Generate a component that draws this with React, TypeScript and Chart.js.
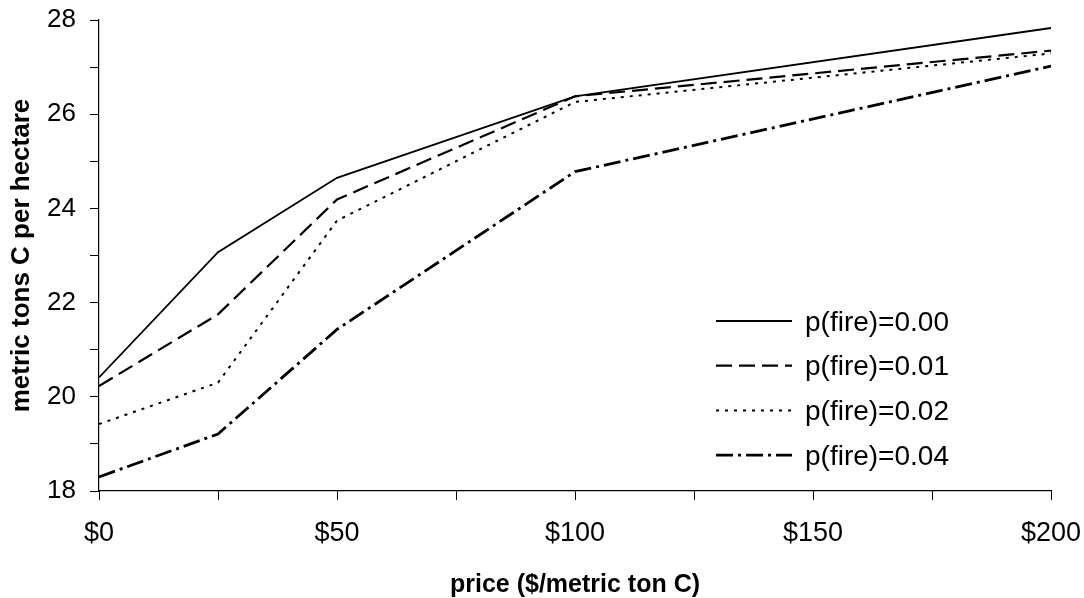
import React, { useEffect, useRef } from "react";
import { Chart, registerables } from "chart.js";

Chart.register(...registerables);

const prices = [0, 25, 50, 100, 200];
const labels = ["p(fire)=0.00", "p(fire)=0.01", "p(fire)=0.02", "p(fire)=0.04"];
const fire000 = [20.41, 23.07, 24.65, 26.38, 27.83];
const fire001 = [20.23, 21.75, 24.19, 26.38, 27.35];
const fire002 = [19.42, 20.3, 23.74, 26.26, 27.29];
const fire004 = [18.3, 19.21, 21.43, 24.78, 27.02];
const xTicks = [0, 50, 100, 150, 200];
const yTicks = [18, 20, 22, 24, 26, 28];

const seriesValues = [fire000, fire001, fire002, fire004];
const dashes = [[], [16, 7], [3, 6], [17, 5, 3, 5]];
const widths = [1.8, 2.2, 2, 2.8];

const FONT = "Arial, 'Liberation Sans', sans-serif";

const legendPlugin = {
  id: "customLegend",
  afterDraw(chart: any) {
    const ctx = chart.ctx;
    const x0 = 716;
    const x1 = 792;
    const tx = 805;
    chart.data.datasets.forEach((ds: any, i: number) => {
      const y = 321 + i * 44.7;
      ctx.save();
      ctx.strokeStyle = "#000";
      ctx.lineWidth = ds.borderWidth;
      ctx.setLineDash(ds.borderDash || []);
      ctx.beginPath();
      ctx.moveTo(x0, y);
      ctx.lineTo(x1, y);
      ctx.stroke();
      ctx.setLineDash([]);
      ctx.fillStyle = "#000";
      ctx.font = `28px ${FONT}`;
      ctx.textBaseline = "middle";
      ctx.textAlign = "left";
      ctx.fillText(ds.label, tx, y + 2);
      ctx.restore();
    });
  },
};

export default function App() {
  const ref = useRef<HTMLCanvasElement>(null);
  useEffect(() => {
    const canvas = ref.current;
    if (!canvas) return;
    const chart = new Chart(canvas, {
      type: "line",
      data: {
        datasets: seriesValues.map((vals, i) => ({
          label: labels[i],
          data: prices.map((p, j) => ({ x: p, y: vals[j] })),
          borderColor: "#000",
          backgroundColor: "#000",
          borderWidth: widths[i],
          borderDash: dashes[i],
          pointRadius: 0,
          tension: 0,
          fill: false,
        })),
      },
      options: {
        animation: false,
        responsive: false,
        devicePixelRatio: 1,
        layout: { padding: { top: 20, right: 33, bottom: 0, left: 0 } },
        plugins: {
          legend: { display: false },
          tooltip: { enabled: false },
        },
        scales: {
          x: {
            type: "linear",
            min: 0,
            max: 200,
            afterFit: (s: any) => {
              s.height = 107;
              s.paddingLeft = 0;
              s.paddingRight = 0;
            },
            ticks: {
              stepSize: 25,
              autoSkip: false,
              maxRotation: 0,
              padding: 17,
              color: "#000",
              font: { family: FONT, size: 27 },
              callback: (v: any) => (xTicks.includes(Number(v)) ? "$" + v : ""),
            },
            grid: {
              drawOnChartArea: false,
              drawTicks: true,
              tickLength: 9,
              color: "#000",
              lineWidth: 1,
            },
            border: { display: true, color: "#000", width: 1.2 },
            title: {
              display: true,
              text: "price ($/metric ton C)",
              color: "#000",
              font: { family: FONT, size: 25, weight: "bold", lineHeight: 1 },
              padding: { top: 0, bottom: 0 },
            },
          },
          y: {
            type: "linear",
            min: 18,
            max: 28,
            afterFit: (s: any) => {
              s.width = 99;
              s.paddingTop = 0;
              s.paddingBottom = 0;
            },
            ticks: {
              stepSize: 1,
              autoSkip: false,
              padding: 14,
              color: "#000",
              font: { family: FONT, size: 26 },
              callback: (v: any) => (yTicks.includes(Number(v)) ? String(v) : ""),
            },
            grid: {
              drawOnChartArea: false,
              drawTicks: true,
              tickLength: 9,
              color: "#000",
              lineWidth: 1,
            },
            border: { display: true, color: "#000", width: 1.2 },
            title: {
              display: true,
              text: "metric tons C per hectare",
              color: "#000",
              font: { family: FONT, size: 26, weight: "bold", lineHeight: 1 },
              padding: { top: 9, bottom: 0 },
            },
          },
        },
      },
      plugins: [legendPlugin],
    });
    return () => chart.destroy();
  }, []);

  return (
    <div
      style={{
        position: "fixed",
        left: 0,
        top: 0,
        width: 1084,
        height: 598,
        background: "#fff",
      }}
    >
      <canvas ref={ref} width={1084} height={598} style={{ display: "block" }} />
    </div>
  );
}
